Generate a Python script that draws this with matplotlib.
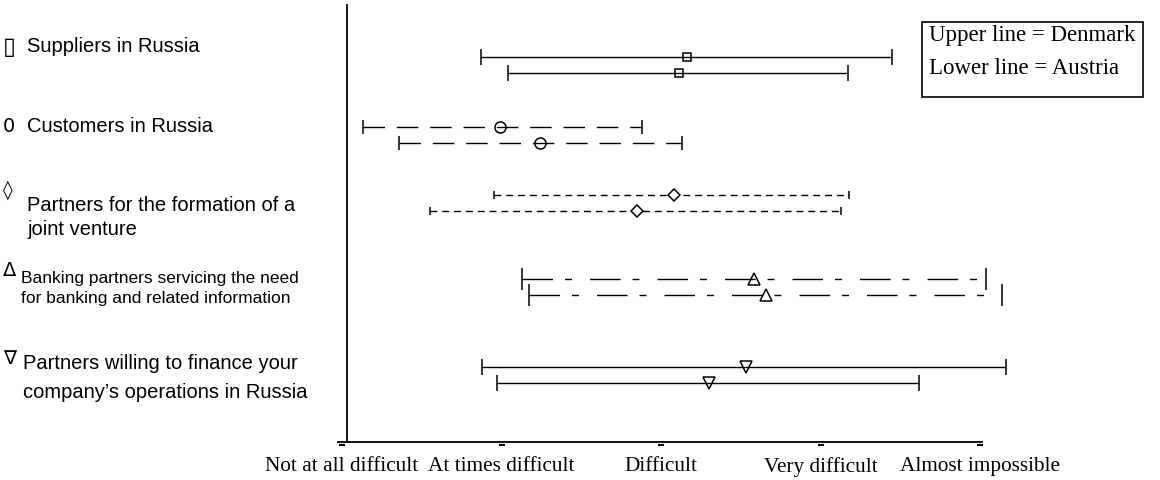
import numpy as np
import matplotlib.pyplot as plt
from matplotlib.patches import Rectangle
from matplotlib.transforms import blended_transform_factory

# difficulty scale 1..5
scale_labels = ["Not at all difficult", "At times difficult", "Difficult",
                "Very difficult", "Almost impossible"]

items = ["Suppliers in Russia", "Customers in Russia",
         "Partners for the formation of a\njoint venture",
         "Banking partners servicing the need\nfor banking and related information",
         "Partners willing to finance your\ncompany\u2019s operations in Russia"]
symbols = ["\u25af", "0", "\u25ca", "\u0394", "\u2207"]

# Denmark (upper line): low, mean, high
dk_low  = [1.87, 1.13, 1.95, 2.13, 1.88]
dk_mean = [3.16, 1.99, 3.08, 3.58, 3.53]
dk_high = [4.45, 2.88, 4.18, 5.04, 5.16]
# Austria (lower line)
at_low  = [2.04, 1.36, 1.55, 2.17, 1.97]
at_mean = [3.11, 2.24, 2.85, 3.66, 3.30]
at_high = [4.17, 3.13, 4.13, 5.14, 4.62]

# layout / styles
row_y = [60, 130, 198, 281.5, 370]      # centre of each pair, px from axes top
off = 8
markers = ["s", "o", "D", "^", "v"]
msizes = [6, 8, 6, 8, 8]
mfills = ["none", "none", "white", "none", "none"]
dashes = [None, (15.5, 8.5), (5, 3.5), (22, 8.6, 5, 13), None]
caps = [6, 5, 3, 8, 6]

plt.rcParams["font.family"] = ["Liberation Sans", "DejaVu Sans"]
fig = plt.figure(figsize=(11.6, 4.8), dpi=100)
W, H = 1160, 480
ax = fig.add_axes([338 / W, 1 - 442 / H, (982 - 338) / W, (442 - 5) / H])
ax.set_xlim(1 - 4 / 159.5, 5 + 2 / 159.5)
ax.set_ylim(437, 0)

for i in range(len(items)):
    for lo, mu, hi, dy in [(dk_low[i], dk_mean[i], dk_high[i], -off),
                           (at_low[i], at_mean[i], at_high[i], off)]:
        eb = ax.errorbar([mu], [row_y[i] + dy], xerr=[[mu - lo], [hi - mu]],
                         fmt=markers[i], ms=msizes[i], mfc=mfills[i], mec="black",
                         mew=1.1, ecolor="black", elinewidth=1.0,
                         capsize=caps[i], capthick=1.0, clip_on=False, zorder=3)
        if dashes[i] is not None:
            eb[2][0].set_linestyle((0, dashes[i]))

ax.spines["top"].set_visible(False)
ax.spines["right"].set_visible(False)
ax.spines["left"].set_position(("data", 1.03))
for s in ["left", "bottom"]:
    ax.spines[s].set_linewidth(1.3)
ax.set_yticks([])
ticks = np.arange(1, 6)
ax.set_xticks(ticks)
ax.set_xticklabels(scale_labels, fontfamily="Liberation Serif", fontsize=15.3)
ax.tick_params(axis="x", length=0, pad=11)
# small dash-like tick marks just under the axis
tr = blended_transform_factory(ax.transData, ax.transAxes)
ax.plot(ticks, [-0.007] * len(ticks), ls="none", marker="_", ms=5, mew=1.5,
        color="black", transform=tr, clip_on=False)

# left labels
lab_x = [27, 27, 27, 21, 23]
lab_y = [47, 127, 217.5, 288.5, 378]
sym_y = [47, 127, 190, 270, 358]
sym_fs = [17, 14, 14, 14, 14]
lab_fs = [14.5, 14.5, 14.5, 12.5, 14.5]
lab_ls = [1.2, 1.2, 1.37, 1.5, 1.62]
for i, txt in enumerate(items):
    fig.text(lab_x[i] / W, 1 - lab_y[i] / H, txt, fontsize=lab_fs[i], va="center",
             ha="left", linespacing=lab_ls[i])
    fig.text(3 / W, 1 - sym_y[i] / H, symbols[i], fontsize=sym_fs[i], va="center",
             ha="left", family=["DejaVu Sans"])

# legend box
fig.patches.append(Rectangle((922 / W, 1 - 97 / H), 221 / W, 75 / H,
                             transform=fig.transFigure, fill=False,
                             edgecolor="black", linewidth=1.2))
fig.text(929 / W, 1 - 35 / H, "Upper line = Denmark", fontsize=16.5,
         fontfamily="Liberation Serif", va="center")
fig.text(929 / W, 1 - 68 / H, "Lower line = Austria", fontsize=16.5,
         fontfamily="Liberation Serif", va="center")

fig.savefig("out.png", dpi=100)
